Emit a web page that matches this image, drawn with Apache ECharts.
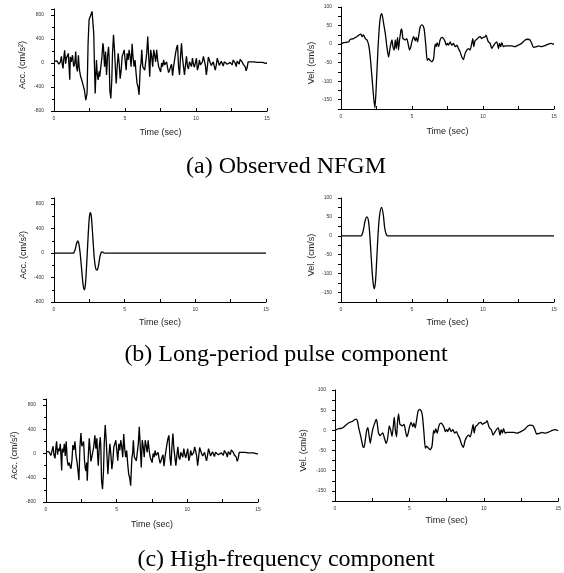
<!DOCTYPE html>
<html><head><meta charset="utf-8">
<script src="https://cdn.jsdelivr.net/npm/echarts@6/dist/echarts.min.js"></script>
<style>html,body{margin:0;padding:0;background:#fff}#c{width:564px;height:573px}</style>
</head><body><div id="c"></div><script>
// ---------- DATA (time in s, value) ----------
const captions = ['(a) Observed NFGM', '(b) Long-period pulse component', '(c) High-frequency component'];
const xTicks = [0, 5, 10, 15];
const accTicks = [-800, -400, 0, 400, 800];
const velTicks = [-150, -100, -50, 0, 50, 100];

const accObsEarly = [[0,30],[0.1,20],[0.2,35],[0.28,10],[0.35,-20],[0.45,20],[0.52,110],[0.59,-30],[0.64,-90],[0.71,130],[0.75,210],[0.82,-10],[0.87,80],[0.94,50],[1.01,160],[1.06,-60],[1.11,-280],[1.15,100],[1.22,20],[1.30,130],[1.34,160],[1.39,-60],[1.46,-10],[1.53,190],[1.58,-60],[1.65,-140],[1.72,130],[1.77,-60],[1.81,-140],[1.88,-230],[1.95,-280],[2.05,-370],[2.14,-450],[2.24,-620],[2.28,-630],[2.33,-500],[2.40,330],[2.47,720],[2.54,740],[2.61,720],[2.68,860],[2.73,850],[2.80,490],[2.85,-60],[2.90,-510],[2.94,-260],[2.99,50],[3.04,-170],[3.11,-280],[3.18,-140],[3.22,-230],[3.30,-60],[3.37,80],[3.44,330],[3.48,270],[3.56,-60],[3.63,190]];

const accHfEarly = [[0,30],[0.1,20],[0.2,30],[0.28,10],[0.35,-30],[0.42,40],[0.5,120],[0.56,-20],[0.64,-80],[0.71,130],[0.75,200],[0.82,-20],[0.87,80],[0.94,40],[1.01,160],[1.06,-50],[1.11,-280],[1.15,80],[1.22,20],[1.3,160],[1.36,-40],[1.43,200],[1.5,-100],[1.57,-200],[1.64,-150],[1.7,-210],[1.77,-250],[1.84,-100],[1.9,140],[1.97,60],[2.05,200],[2.12,-20],[2.2,-150],[2.27,-300],[2.33,-440],[2.4,100],[2.47,340],[2.54,120],[2.61,160],[2.66,200],[2.72,-100],[2.78,-250],[2.83,-290],[2.88,-150],[2.92,-450],[2.98,-100],[3.06,250],[3.12,60],[3.18,-130],[3.24,-60],[3.3,-80],[3.37,100],[3.46,300],[3.53,80],[3.6,250],[3.66,-60]];

const accTail = [[3.70,-200],[3.77,110],[3.84,270],[3.88,110],[3.93,-450],[4.00,-590],[4.07,-280],[4.12,160],[4.19,470],[4.26,220],[4.33,-120],[4.38,-340],[4.45,-60],[4.52,160],[4.59,-10],[4.66,-260],[4.73,-120],[4.80,110],[4.87,160],[4.94,220],[5.01,190],[5.08,-120],[5.15,160],[5.22,50],[5.29,220],[5.36,110],[5.43,-60],[5.50,320],[5.57,80],[5.64,-60],[5.71,50],[5.78,-170],[5.85,-340],[5.92,-400],[5.99,-530],[6.04,-260],[6.08,-60],[6.13,0],[6.18,220],[6.25,-60],[6.32,-60],[6.39,-120],[6.46,-120],[6.53,160],[6.60,440],[6.67,110],[6.74,-230],[6.81,220],[6.88,110],[6.95,-60],[7.02,220],[7.09,130],[7.16,20],[7.23,220],[7.30,50],[7.37,-60],[7.44,-30],[7.51,-150],[7.58,0],[7.65,-60],[7.72,50],[7.79,-30],[7.86,-10],[7.93,20],[8.00,-80],[8.07,-160],[8.14,-120],[8.21,-60],[8.28,-20],[8.35,-210],[8.42,-60],[8.49,-60],[8.56,160],[8.63,250],[8.70,300],[8.77,-60],[8.84,-200],[8.91,110],[8.98,330],[9.05,80],[9.12,-60],[9.19,-200],[9.26,-30],[9.33,110],[9.40,-60],[9.47,-100],[9.54,20],[9.61,-10],[9.68,-60],[9.75,80],[9.82,-20],[9.89,-70],[9.96,-40],[10.03,80],[10.10,-120],[10.17,-60],[10.24,50],[10.31,-30],[10.38,-60],[10.45,20],[10.52,110],[10.59,40],[10.66,-40],[10.73,-200],[10.80,-60],[10.87,100],[10.94,130],[11.01,0],[11.08,-40],[11.15,-60],[11.22,20],[11.29,-60],[11.36,-120],[11.43,-30],[11.50,80],[11.57,110],[11.64,-40],[11.71,-30],[11.78,30],[11.85,0],[11.92,-50],[11.99,20],[12.06,-10],[12.13,30],[12.20,-20],[12.27,0],[12.34,-40],[12.41,10],[12.48,30],[12.55,-30],[12.62,50],[12.69,80],[12.76,0],[12.83,-60],[12.90,30],[12.97,60],[13.04,-20],[13.11,60],[13.18,80],[13.25,20],[13.32,-20],[13.39,10],[13.46,-60],[13.53,-130],[13.60,-80],[13.67,20],[13.74,30],[13.81,10],[13.88,20],[13.95,30],[14.02,0],[14.09,20],[14.16,10],[14.23,20],[14.30,10],[14.40,20],[14.50,10],[14.60,0],[14.70,10],[14.80,0],[14.90,-5],[15.0,0]];

const accPulse = [[0,0],[1.3,0],[1.4,5],[1.5,60],[1.6,160],[1.68,200],[1.76,150],[1.85,0],[1.95,-250],[2.05,-500],[2.14,-600],[2.22,-520],[2.32,-150],[2.42,300],[2.5,580],[2.57,660],[2.65,580],[2.75,250],[2.85,-80],[2.95,-250],[3.05,-280],[3.15,-200],[3.25,-60],[3.35,15],[3.42,20],[3.5,5],[3.6,0],[15,0]];

const velObsEarly = [[0,0],[0.19,4],[0.42,5],[0.54,6],[0.66,13],[0.89,15],[1.01,18],[1.12,20],[1.29,25],[1.41,27],[1.48,20],[1.59,25],[1.71,15],[1.83,11],[1.95,-3],[2.06,-35],[2.18,-89],[2.30,-144],[2.39,-172],[2.48,-116],[2.60,-16],[2.72,56],[2.81,79],[2.88,82],[3.00,56],[3.12,29],[3.23,-7],[3.35,-35],[3.47,-7],[3.59,11],[3.66,-7],[3.75,-16],[3.82,11],[3.89,-12],[3.98,18],[4.05,-16],[4.12,11],[4.19,29],[4.24,40],[4.29,38]];

const velHfEarly = [[0,0],[0.22,4],[0.44,5],[0.55,7],[0.66,11],[0.82,16],[1.00,20],[1.15,22],[1.33,27],[1.42,28],[1.50,24],[1.59,7],[1.73,-15],[1.88,-41],[1.95,-42],[2.04,-23],[2.12,-2],[2.21,7],[2.28,-10],[2.37,-32],[2.43,-19],[2.54,3],[2.65,16],[2.77,27],[2.83,20],[2.92,-6],[3.03,-13],[3.10,-10],[3.21,-6],[3.32,-19],[3.43,-32],[3.54,-19],[3.65,11],[3.76,-2],[3.83,-15],[3.92,11],[3.98,33],[4.05,3],[4.14,-16],[4.20,20],[4.27,41]];

const velTail = [[4.36,15],[4.45,13],[4.52,11],[4.64,15],[4.71,4],[4.83,-16],[4.92,-7],[4.99,6],[5.11,20],[5.23,9],[5.30,18],[5.39,6],[5.46,20],[5.58,47],[5.69,52],[5.81,47],[5.88,34],[5.98,-7],[6.07,-44],[6.16,-39],[6.28,-44],[6.40,-48],[6.52,-39],[6.63,0],[6.70,-7],[6.77,4],[6.87,-7],[6.98,11],[7.10,18],[7.22,15],[7.34,6],[7.41,-3],[7.50,2],[7.57,-3],[7.69,6],[7.80,-3],[7.92,2],[8.04,-7],[8.16,-3],[8.27,-12],[8.39,-21],[8.51,-35],[8.62,-42],[8.74,-25],[8.86,-16],[8.98,-12],[9.09,-16],[9.21,2],[9.28,15],[9.35,-7],[9.44,9],[9.56,13],[9.68,18],[9.80,20],[9.91,15],[10.03,18],[10.15,20],[10.22,24],[10.31,13],[10.38,6],[10.50,2],[10.62,-12],[10.73,-5],[10.85,2],[10.97,6],[11.09,-12],[11.16,2],[11.25,-7],[11.32,4],[11.44,-7],[11.55,-5],[11.79,-5],[12.02,-5],[12.26,-7],[12.37,-5],[12.49,-3],[12.73,2],[12.96,11],[13.15,13],[13.31,11],[13.43,2],[13.55,-9],[13.78,-7],[13.90,-5],[14.13,-7],[14.37,-4],[14.60,0],[14.79,2],[15,-1]];

const velPulse = [[0,0],[1.4,0],[1.5,5],[1.6,20],[1.7,40],[1.83,50],[1.95,35],[2.05,-10],[2.15,-70],[2.25,-120],[2.34,-140],[2.43,-120],[2.52,-60],[2.62,10],[2.72,55],[2.86,75],[2.98,55],[3.08,20],[3.2,3],[3.3,0],[15,0]];

const accObs = accObsEarly.concat(accTail);
const accHf = accHfEarly.concat(accTail);
const velObs = velObsEarly.concat(velTail);
const velHf = velHfEarly.concat(velTail);

// ---------- LAYOUT ----------
const panels = [
  {grid:{left:54, top:9, width:213, height:102}, kind:'acc', data:accObs, smooth:false, xGap:17, yGap:27},
  {grid:{left:341, top:7, width:213, height:102}, kind:'vel', data:velObs, smooth:0.2, xGap:18, yGap:25},
  {grid:{left:54, top:198, width:212, height:104}, kind:'acc', data:accPulse, smooth:0.3, xGap:16, yGap:26},
  {grid:{left:341, top:198, width:213, height:104}, kind:'vel', data:velPulse, smooth:0.3, xGap:16, yGap:25},
  {grid:{left:46, top:399, width:212, height:103}, kind:'acc', data:accHf, smooth:false, xGap:18, yGap:27},
  {grid:{left:335, top:390, width:226, height:111}, kind:'vel', data:velHf, smooth:0.2, xGap:15, yGap:27}
];

const FONT = 'Liberation Sans';
const axisLine = {show:true, onZero:false, lineStyle:{color:'#000', width:1}};
const grid = [], xAxis = [], yAxis = [], series = [];
panels.forEach((p, i) => {
  grid.push(Object.assign({containLabel:false}, p.grid));
  xAxis.push({
    type:'value', gridIndex:i, min:xTicks[0], max:xTicks[xTicks.length-1], interval:xTicks[1]-xTicks[0],
    axisLine, axisTick:{show:true, inside:true, length:3, lineStyle:{color:'#000'}},
    minorTick:{show:true, splitNumber:2, length:3, lineStyle:{color:'#000'}},
    splitLine:{show:false}, minorSplitLine:{show:false},
    axisLabel:{fontSize:5, margin:5, color:'#333', fontFamily:FONT},
    name:'Time (sec)', nameLocation:'middle', nameGap:p.xGap,
    nameTextStyle:{fontSize:9, color:'#222', fontFamily:FONT}
  });
  if (p.kind === 'acc') {
    yAxis.push({
      type:'value', gridIndex:i, min:accTicks[0], max:900, interval:accTicks[1]-accTicks[0],
      axisLine, axisTick:{show:true, length:3, lineStyle:{color:'#000'}},
      minorTick:{show:true, splitNumber:2, length:2, lineStyle:{color:'#000'}},
      splitLine:{show:false}, minorSplitLine:{show:false},
      axisLabel:{fontSize:5, margin:10, color:'#333', fontFamily:FONT, showMaxLabel:false,
        formatter:v => accTicks.indexOf(v) >= 0 ? String(v) : ''},
      name:'Acc. (cm/s²)', nameLocation:'middle', nameRotate:90, nameGap:p.yGap,
      nameTextStyle:{fontSize:9, color:'#222', fontFamily:FONT, padding:[0,10,0,0]}
    });
  } else {
    yAxis.push({
      type:'value', gridIndex:i, min:-175, max:velTicks[velTicks.length-1], interval:25,
      axisLine, axisTick:{show:true, length:3, lineStyle:{color:'#000'}},
      splitLine:{show:false},
      axisLabel:{fontSize:5, margin:9, color:'#333', fontFamily:FONT,
        formatter:v => velTicks.indexOf(v) >= 0 ? String(v) : ''},
      name:'Vel. (cm/s)', nameLocation:'middle', nameRotate:90, nameGap:p.yGap,
      nameTextStyle:{fontSize:9, color:'#222', fontFamily:FONT, padding:[0,10,0,0]}
    });
  }
  series.push({
    type:'line', xAxisIndex:i, yAxisIndex:i, data:p.data, showSymbol:false, symbol:'none',
    smooth:p.smooth, lineStyle:{color:'#000', width:1.3}, animation:false
  });
});

const capY = [167, 355, 560];
const graphic = captions.map((t, i) => ({
  type:'text', silent:true,
  style:{text:t, x:286, y:capY[i], textAlign:'center', textVerticalAlign:'middle', verticalAlign:'middle',
    font:'24px "Liberation Serif"', fill:'#000'}
}));

const chart = echarts.init(document.getElementById('c'), null, {renderer:'canvas'});
chart.setOption({animation:false, backgroundColor:'#fff', grid, xAxis, yAxis, series, graphic});
</script></body></html>
